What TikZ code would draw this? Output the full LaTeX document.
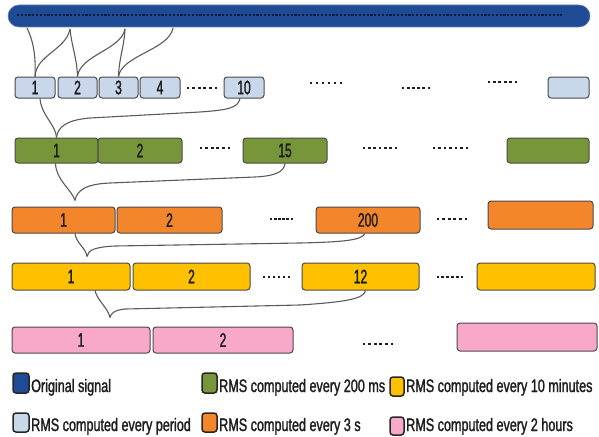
\documentclass[tikz,border=0pt]{standalone}
\usepackage{fontspec}
\setmainfont{Liberation Sans}[FakeStretch=0.7, FakeBold=1.5]
\newfontfamily\numfont{Liberation Sans}[FakeStretch=0.62, FakeBold=1.5]
\usetikzlibrary{calc}
\definecolor{barblue}{HTML}{1F4A94}
\definecolor{bardot}{HTML}{0E1B40}
\definecolor{lblue}{HTML}{C8D7EA}
\definecolor{grn}{HTML}{77963A}
\definecolor{org}{HTML}{F3862A}
\definecolor{ylw}{HTML}{FFC000}
\definecolor{pnk}{HTML}{F8A9C9}
\definecolor{edgec}{HTML}{4A4A4A}
\definecolor{connc}{HTML}{5A5A5A}
\definecolor{txtc}{HTML}{1E1E1E}
\newcommand{\dotsrow}[4]{\foreach \i in {0,...,#4} {\fill[txtc] ({#1+\i*(#2-#1)/#4-1.4},{#3-1.4}) rectangle ++(2.8,2.8);}}
\begin{document}
\begin{tikzpicture}[x=1pt,y=-1pt,
  box/.style={draw=edgec, line width=1pt, rounded corners=3pt, inner sep=0pt,
    font=\numfont\fontsize{19.5}{19.5}\selectfont, text=txtc},
  lb/.style={box, fill=lblue, minimum height=21},
  gb/.style={box, fill=grn, minimum height=25},
  ob/.style={box, fill=org, minimum height=26},
  yb/.style={box, fill=ylw, minimum height=27},
  pb/.style={box, fill=pnk, minimum height=26},
  conn/.style={draw=connc, line width=1.1pt},
  sw/.style={draw=black!85, line width=1.5pt, rounded corners=3pt, inner sep=0pt},
  lg/.style={anchor=base west, inner sep=0pt, font=\fontsize{18}{18}\selectfont, text=txtc}]
\useasboundingbox (0,0) rectangle (599,436);

% original signal
\node[fill=barblue, draw=barblue!70!white, line width=0.6pt, rounded corners=11pt,
  minimum width=582, minimum height=22, inner sep=0pt] (sig) at (299,16) {};
\draw[bardot, line width=2.6pt, dash pattern=on 2.2pt off 1.6pt] (17,15) -- (562,15);
\coordinate (s0) at (27,28);
\coordinate (s1) at (70,29);
\coordinate (s2) at (125,29);
\coordinate (s3) at (173,28);

% row 1
\node[lb, minimum width=40] (a1) at (35,87.5) {1};
\node[lb, minimum width=39] (a2) at (77.5,87.5) {2};
\node[lb, minimum width=39] (a3) at (118.5,87.5) {3};
\node[lb, minimum width=40] (a4) at (160,87.5) {4};
\node[lb, minimum width=40] (a10) at (244,87.5) {10};
\node[lb, minimum width=41] (an) at (568.5,87.5) {};
\dotsrow{188}{216}{88}{5}
\dotsrow{311}{341}{83}{5}
\dotsrow{403}{429}{88}{5}
\dotsrow{489}{516}{82}{5}

% row 2
\node[gb, minimum width=83] (g1) at (56.5,150.5) {1};
\node[gb, minimum width=84] (g2) at (140,150.5) {2};
\node[gb, minimum width=84] (g15) at (285,150.5) {15};
\node[gb, minimum width=82] (gn) at (548,150.5) {};
\dotsrow{201}{229}{148}{5}
\dotsrow{364}{396}{148}{6}
\dotsrow{434}{467}{148}{6}

% row 3
\node[ob, minimum width=103] (o1) at (63.5,220) {1};
\node[ob, minimum width=105] (o2) at (169.5,220) {2};
\node[ob, minimum width=104] (o200) at (368,220) {200};
\node[ob, minimum width=105, minimum height=28] (on) at (540.5,215) {};
\dotsrow{271}{292}{219}{5}
\dotsrow{438}{466}{219}{5}

% row 4
\node[yb, minimum width=118] (y1) at (71,276.5) {1};
\node[yb, minimum width=117] (y2) at (191.5,276.5) {2};
\node[yb, minimum width=117] (y12) at (360.5,276.5) {12};
\node[yb, minimum width=118] (yn) at (536,276.5) {};
\dotsrow{264}{289}{277}{5}
\dotsrow{438}{462}{277}{5}

% row 5
\node[pb, minimum width=138] (p1) at (81,340) {1};
\node[pb, minimum width=140] (p2) at (223,340) {2};
\node[pb, minimum width=140, minimum height=28] (pn) at (527,337) {};
\dotsrow{364}{392}{344}{5}

% connectors: signal -> row 1
\draw[conn] (s0) .. controls (33,40) and (36,55) .. (a1.north);
\draw[conn] (s1) .. controls (66,50) and (36,55) .. (a1.north);
\draw[conn] (s1) .. controls (72,48) and (77,58) .. (a2.north);
\draw[conn] (s2) .. controls (121,50) and (80,55) .. (a2.north);
\draw[conn] (s2) .. controls (124,48) and (119,58) .. (a3.north);
\draw[conn] (s3) .. controls (169,50) and (122,55) .. (a3.north);

% row 1 -> row 2
\draw[conn] ([xshift=5pt]a1.south) .. controls (41,115) and (56,125) .. (g1.north);
\draw[conn] ([xshift=-4pt]a10.south) .. controls (238,108) and (228,110) .. (200,112)
  -- (90,118) .. controls (66,120) and (58,127) .. (g1.north);

% row 2 -> row 3
\coordinate (t3) at ($(o1.north)+(11.5,-6)$);
\draw[conn] ([xshift=-1pt]g1.south) .. controls (56,180) and (72,190) .. (t3);
\draw[conn] (g15.south) .. controls (284,172) and (275,176) .. (255,177)
  -- (110,183) .. controls (86,184) and (77,190) .. (t3);

% row 3 -> row 4
\coordinate (t4) at ($(y1.north)+(16,-6)$);
\draw[conn] ([xshift=11.5pt]o1.south) .. controls (76,243) and (86,248) .. (t4);
\draw[conn] ([xshift=-3pt]o200.south) .. controls (362,240) and (345,242) .. (300,243)
  -- (115,246) .. controls (95,247) and (88,250) .. (t4);

% row 4 -> row 5
\coordinate (t5) at ($(p1.north)+(29,-9)$);
\draw[conn] ([xshift=24pt]y1.south) .. controls (97,300) and (108,308) .. (t5);
\draw[conn] ([xshift=5pt]y12.south) .. controls (364,299) and (345,302) .. (300,305)
  -- (125,309) .. controls (115,310) and (111,313) .. (t5);

% legend
\node[sw, fill=barblue, minimum width=16, minimum height=20] (k1) at (21,383) {};
\node[lg] (l1) at (31,392) {Original signal};
\node[sw, fill=grn, minimum width=15, minimum height=20] (k2) at (209.5,383) {};
\node[lg] (l2) at (219,392) {RMS computed every 200 ms};
\node[sw, fill=ylw, minimum width=14, minimum height=19] (k3) at (397,386.5) {};
\node[lg] (l3) at (406,392) {RMS computed every 10 minutes};
\node[sw, fill=lblue, minimum width=16, minimum height=19] (k4) at (21,422.5) {};
\node[lg] (l4) at (31,431) {RMS computed every period};
\node[sw, fill=org, minimum width=15, minimum height=19] (k5) at (209.5,422.5) {};
\node[lg] (l5) at (219,431) {RMS computed every 3 s};
\node[sw, fill=pnk, minimum width=14, minimum height=18] (k6) at (397,426) {};
\node[lg] (l6) at (406,431) {RMS computed every 2 hours};
\end{tikzpicture}
\end{document}
